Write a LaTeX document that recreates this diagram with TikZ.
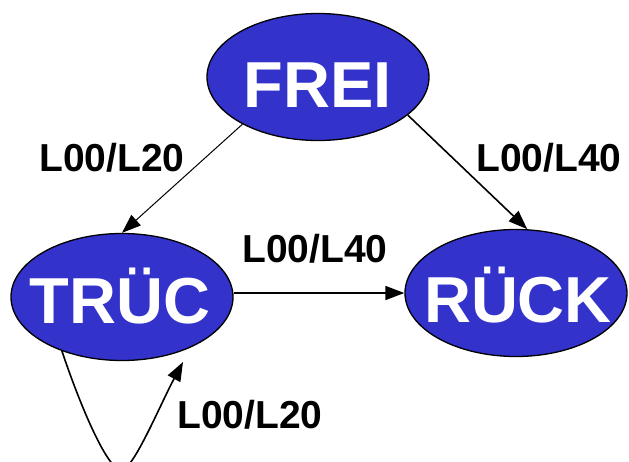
\documentclass[tikz,border=0pt]{standalone}
\usepackage{fontspec}
\setmainfont{Liberation Sans}
\usetikzlibrary{shapes.geometric,arrows.meta}
\definecolor{stateblue}{RGB}{51,51,204}
\begin{document}
\begin{tikzpicture}[x=1pt,y=-1pt,
  state/.style={ellipse,draw=black,line width=1.3pt,fill=stateblue,inner sep=0pt,minimum width=222pt,minimum height=127pt},
  statetext/.style={anchor=base,text=white,font=\fontsize{65}{65}\selectfont\bfseries,inner sep=0pt},
  lbl/.style={anchor=base,font=\fontsize{39}{39}\selectfont\bfseries,inner sep=0pt},
  tip/.style={-{Triangle[length=19pt,width=14pt]}},
  thinarr/.style={tip,line width=1pt},
  thickarr/.style={tip,line width=1.6pt}]
\useasboundingbox (0,0) rectangle (629,461);
\node[state] (frei) at (318,77) {};
\node[state] (truc) at (122,297) {};
\node[state] (ruck) at (516,293) {};
\node[statetext] (freit) at (318,107) {FREI};
\node[statetext] (truct) at (120,323) {TRÜC};
\node[statetext] (ruckt) at (518,322) {RÜCK};
\draw[thinarr] (frei.212) -- (truc.north);
\draw[thickarr] (frei.337) -- (ruck.80);
\draw[thickarr] (ruck.west -| truc.east) -- (ruck.west);
\coordinate (loopend) at (183,362);
\draw[thickarr] (truc.222) .. controls (80,405) and (108,472) .. (122,470)
  .. controls (134,468) and (160,405) .. (loopend);
\node[lbl] (l1) at (112,171) {L00/L20};
\node[lbl] (l2) at (549,171) {L00/L40};
\node[lbl] (l3) at (315,262) {L00/L40};
\node[lbl] (l4) at (250,428) {L00/L20};
\end{tikzpicture}
\end{document}
